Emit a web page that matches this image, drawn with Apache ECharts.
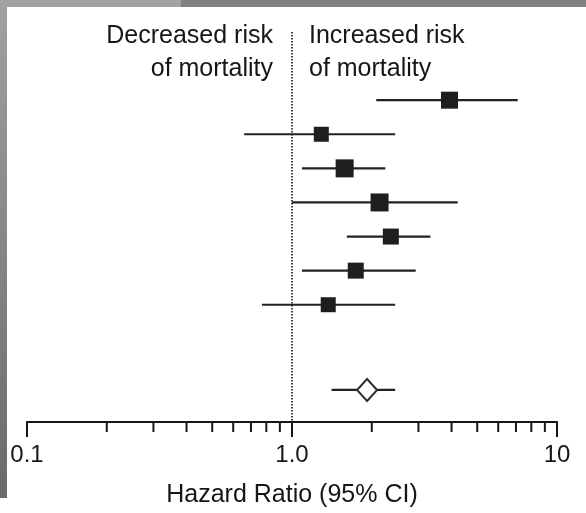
<!DOCTYPE html>
<html>
<head>
<meta charset="utf-8">
<script src="https://cdn.jsdelivr.net/npm/echarts@6/dist/echarts.min.js"></script>
<style>
  html, body { margin: 0; padding: 0; background: #fff; }
  #chart { width: 586px; height: 513px; }
</style>
</head>
<body>
<div id="chart"></div>
<script>
// study rows (top to bottom) and the pooled estimate
const rows = [0, 1, 2, 3, 4, 5, 6]
const hazardRatio = [3.93, 1.29, 1.58, 2.14, 2.36, 1.74, 1.37]
const lowerCI = [2.08, 0.66, 1.09, 1.00, 1.61, 1.09, 0.77]
const upperCI = [7.11, 2.45, 2.25, 4.22, 3.33, 2.93, 2.45]
const studyWeight = [17, 15, 18, 18, 16, 16, 15]
const pooledRow = 8.5
const pooledHR = 1.92
const pooledLower = 1.41
const pooledUpper = 2.45

// axis ticks
const tickValues = [0.1, 1, 10]
const tickLabels = ['0.1', '1.0', '10']
const minorTickValues = [0.2, 0.3, 0.4, 0.5, 0.6, 0.7, 0.8, 0.9, 2, 3, 4, 5, 6, 7, 8, 9]

const FONT = "'Liberation Sans', Arial, Helvetica, sans-serif"
const INK = '#161616'
const Y_MIN = -2
const Y_MAX = 9.44

const chart = echarts.init(document.getElementById('chart'))

const ciData = rows.map((r, i) => [lowerCI[i], upperCI[i], r])
ciData.push([pooledLower, pooledUpper, pooledRow])

const option = {
  animation: false,
  backgroundColor: '#fff',
  grid: {
    left: 27,
    right: 29,
    top: 32,
    bottom: 90
  },
  xAxis: {
    type: 'log',
    logBase: 10,
    position: 'bottom',
    min: 0.1,
    max: 10,
    splitNumber: 2,
    name: 'Hazard Ratio (95% CI)',
    nameLocation: 'middle',
    nameGap: 61,
    nameTextStyle: { fontFamily: FONT, fontSize: 25, color: INK },
    axisLine: { onZero: false, lineStyle: { color: INK, width: 2 } },
    axisTick: { length: 15, lineStyle: { color: INK, width: 2 } },
    axisLabel: {
      margin: 21,
      fontFamily: FONT,
      fontSize: 24,
      color: INK,
      formatter: v => {
        const i = tickValues.findIndex(t => Math.abs(t - v) < 1e-9)
        return i >= 0 ? tickLabels[i] : ''
      }
    },
    splitLine: { show: false }
  },
  yAxis: {
    type: 'value',
    inverse: true,
    min: Y_MIN,
    max: Y_MAX,
    show: false
  },
  graphic: [
    { type: 'rect', shape: { x: 0, y: 0, width: 181, height: 7 }, style: { fill: '#a2a2a2' }, z: 100 },
    { type: 'rect', shape: { x: 181, y: 0, width: 405, height: 7 }, style: { fill: '#808080' }, z: 100 },
    {
      type: 'rect',
      shape: { x: 0, y: 7, width: 7, height: 491 },
      style: {
        fill: new echarts.graphic.LinearGradient(0, 0, 0, 1, [
          { offset: 0, color: '#a0a0a0' },
          { offset: 1, color: '#6a6a6a' }
        ])
      },
      z: 100
    },
    {
      type: 'text',
      x: 273,
      y: 20,
      style: {
        text: 'Decreased risk\nof mortality',
        fontFamily: FONT,
        fontSize: 25,
        lineHeight: 33,
        fill: INK,
        align: 'right',
        verticalAlign: 'top'
      }
    },
    {
      type: 'text',
      x: 309,
      y: 20,
      style: {
        text: 'Increased risk\nof mortality',
        fontFamily: FONT,
        fontSize: 25,
        lineHeight: 33,
        fill: INK,
        align: 'left',
        verticalAlign: 'top'
      }
    }
  ],
  series: [
    {
      // confidence intervals
      type: 'custom',
      clip: false,
      data: ciData,
      encode: { x: [0, 1], y: 2 },
      renderItem: (params, api) => {
        const p1 = api.coord([api.value(0), api.value(2)])
        const p2 = api.coord([api.value(1), api.value(2)])
        return {
          type: 'line',
          shape: { x1: p1[0], y1: p1[1], x2: p2[0], y2: p2[1] },
          style: { stroke: '#222', lineWidth: 2.2 }
        }
      },
      markLine: {
        silent: true,
        symbol: 'none',
        label: { show: false },
        lineStyle: { color: INK, type: [1.5, 1.5], width: 1.6 },
        data: [{ xAxis: 1 }]
      },
      z: 2
    },
    {
      // minor ticks of the log axis
      type: 'custom',
      clip: false,
      data: minorTickValues.map(v => [v, Y_MAX]),
      renderItem: (params, api) => {
        const p = api.coord([api.value(0), api.value(1)])
        return {
          type: 'line',
          shape: { x1: p[0], y1: p[1], x2: p[0], y2: p[1] + 10 },
          style: { stroke: INK, lineWidth: 2 }
        }
      },
      z: 2
    },
    {
      // study estimates
      type: 'scatter',
      symbol: 'rect',
      data: rows.map((r, i) => [hazardRatio[i], r, studyWeight[i]]),
      symbolSize: d => d[2],
      itemStyle: { color: '#1e1e1e', opacity: 1 },
      z: 3
    },
    {
      // pooled estimate
      type: 'scatter',
      symbol: 'diamond',
      data: [[pooledHR, pooledRow]],
      symbolSize: [20, 22],
      itemStyle: { color: '#fff', borderColor: '#2a2a2a', borderWidth: 2, opacity: 1 },
      z: 3
    }
  ]
}

chart.setOption(option)
</script>
</body>
</html>
